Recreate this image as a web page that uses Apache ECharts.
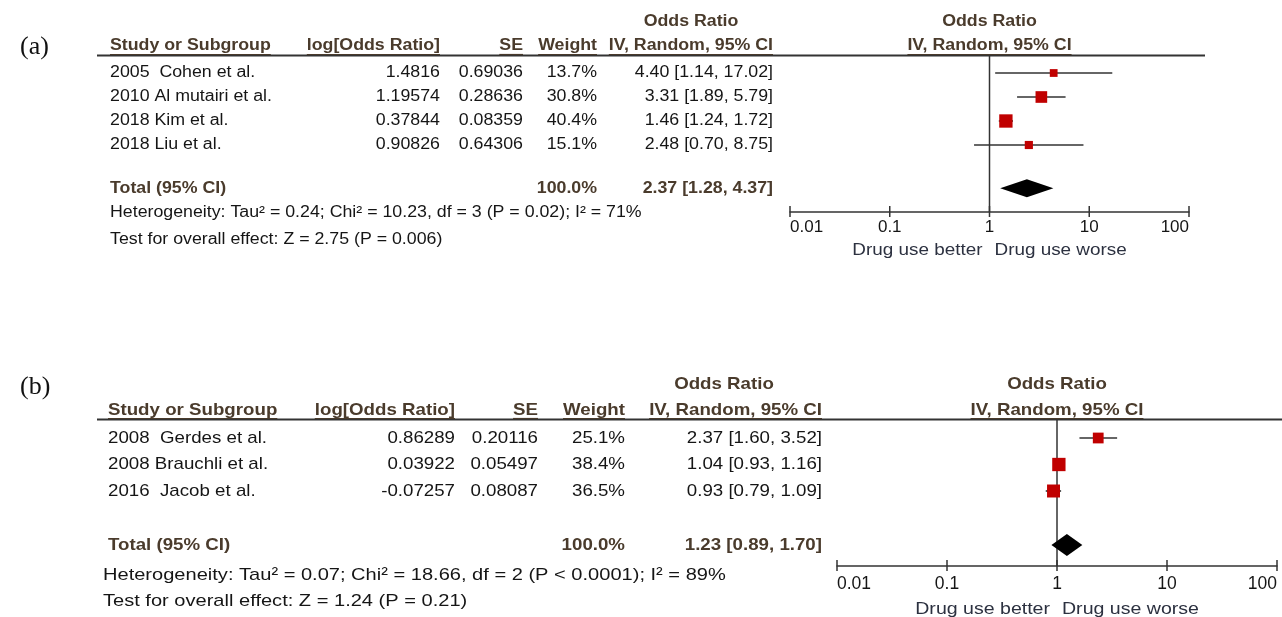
<!DOCTYPE html>
<html><head><meta charset="utf-8">
<script src="https://cdn.jsdelivr.net/npm/echarts@6/dist/echarts.min.js"></script>
<style>html,body{margin:0;padding:0;background:#fff}#c{width:1282px;height:617px}</style>
</head><body><div id="c"></div><script>
// ---------------- data ----------------
const studiesA = ['2005  Cohen et al.', '2010 Al mutairi et al.', '2018 Kim et al.', '2018 Liu et al.'];
const logOrA = [1.4816, 1.19574, 0.37844, 0.90826];
const seA = [0.69036, 0.28636, 0.08359, 0.64306];
const weightA = [13.7, 30.8, 40.4, 15.1];
const orA = [4.40, 3.31, 1.46, 2.48];
const loA = [1.14, 1.89, 1.24, 0.70];
const hiA = [17.02, 5.79, 1.72, 8.75];
const totalA = [2.37, 1.28, 4.37];
const hetA = 'Heterogeneity: Tau² = 0.24; Chi² = 10.23, df = 3 (P = 0.02); I² = 71%';
const testA = 'Test for overall effect: Z = 2.75 (P = 0.006)';

const studiesB = ['2008  Gerdes et al.', '2008 Brauchli et al.', '2016  Jacob et al.'];
const logOrB = [0.86289, 0.03922, -0.07257];
const seB = [0.20116, 0.05497, 0.08087];
const weightB = [25.1, 38.4, 36.5];
const orB = [2.37, 1.04, 0.93];
const loB = [1.60, 0.93, 0.79];
const hiB = [3.52, 1.16, 1.09];
const totalB = [1.23, 0.89, 1.70];
const hetB = 'Heterogeneity: Tau² = 0.07; Chi² = 18.66, df = 2 (P < 0.0001); I² = 89%';
const testB = 'Test for overall effect: Z = 1.24 (P = 0.21)';

const xTicks = [0.01, 0.1, 1, 10, 100];
const xTickLabels = ['0.01', '0.1', '1', '10', '100'];
const colHeads = ['Study or Subgroup', 'log[Odds Ratio]', 'SE', 'Weight', 'IV, Random, 95% CI'];
const effectHead = 'Odds Ratio';
const totalLabel = 'Total (95% CI)';
const favourLabels = ['Drug use better', 'Drug use worse'];
const panelTags = ['(a)', '(b)'];

// ---------------- layout ----------------
const SANS = '"Liberation Sans", Arial, sans-serif';
const SERIF = '"Liberation Serif", "Times New Roman", serif';
const HEAD = '#4a3b2c', BODY = '#151515', LINE = '#333333', SQ = '#c00000';

const LA = {tagY: 47, row0: 73, rowH: 24, top: 55, axisY: 212, totalRow: 4.8, hetRow: 5.83, testRow: 6.96,
  titleRow: -2.125, headRow: -1.125, drugY: 251,
  cols: {name: 110, logOr: 440, se: 523, weight: 597, ci: 773, ciHead: 691, foot: 110},
  plotL: 790, plotR: 1189, lineL: 97, lineR: 1205, font: 16, sx: 1.11, footSx: 1.11, drugSx: 1.18,
  axisFont: 17, labelMargin: 7, diamondH: 9, sqK: 2.1};
const LB = {tagY: 387, row0: 438, rowH: 26.5, top: 419, axisY: 566, totalRow: 4.04, hetRow: 5.17, testRow: 6.15,
  titleRow: -2.04, headRow: -1.06, drugY: 609,
  cols: {name: 108, logOr: 455, se: 538, weight: 625, ci: 822, ciHead: 724, foot: 103},
  plotL: 837, plotR: 1277, lineL: 97, lineR: 1282, font: 17, sx: 1.1, footSx: 1.18, drugSx: 1.15,
  axisFont: 17.5, labelMargin: 9, diamondH: 11, sqK: 2.15};

const mctx = document.createElement('canvas').getContext('2d');
function measure(c) {
  mctx.font = (c.bold ? 'bold ' : '') + c.size + 'px ' + c.family;
  return mctx.measureText(c.text).width;
}
const fmt2 = v => v.toFixed(2);
const ciText = (o, l, h) => fmt2(o) + ' [' + fmt2(l) + ', ' + fmt2(h) + ']';

const grids = [], xAxes = [], yAxes = [], series = [];

function textSeries(axisIdx, cells) {
  return {
    type: 'custom', xAxisIndex: axisIdx, yAxisIndex: axisIdx, clip: false, silent: true, z: 5,
    data: cells.map(c => [c.x, c.row]),
    renderItem: (params, api) => {
      const c = cells[params.dataIndex];
      const p = api.coord([c.x, c.row]);
      const px = p[0] + (c.dx || 0), py = p[1];
      const children = [{
        type: 'text', x: px, y: py, scaleX: c.sx,
        style: {text: c.text, fill: c.color, fontSize: c.size, fontFamily: c.family,
          fontWeight: c.bold ? 'bold' : 'normal', align: c.align, verticalAlign: 'middle'}
      }];
      if (c.underline) {
        const w = measure(c) * c.sx;
        const x0 = c.align === 'left' ? px : c.align === 'right' ? px - w : px - w / 2;
        const uy = Math.round(py + c.size * 0.5) + 0.5;
        children.push({type: 'line', shape: {x1: x0, y1: uy, x2: x0 + w, y2: uy}, style: {stroke: c.color, lineWidth: 1.2}});
      }
      return {type: 'group', children};
    }
  };
}

function addPanel(L, d, tag) {
  const gi = grids.length;
  const pi = gi + 1;
  const yMin = (L.top - L.row0) / L.rowH, yMax = (L.axisY - L.row0) / L.rowH;
  const gh = L.axisY - L.top;
  grids.push({left: 0, right: 0, top: L.top, height: gh, containLabel: false, outerBoundsMode: 'none'});
  grids.push({left: L.plotL, width: L.plotR - L.plotL, top: L.top, height: gh, containLabel: false, outerBoundsMode: 'none'});
  xAxes.push({type: 'value', gridIndex: gi, min: 0, max: 1282, show: false});
  yAxes.push({type: 'value', gridIndex: gi, min: yMin, max: yMax, inverse: true, show: false});
  xAxes.push({
    type: 'log', logBase: 10, gridIndex: pi, min: 0.01, max: 100, splitNumber: 4, position: 'bottom',
    axisLine: {show: true, onZero: false, lineStyle: {color: LINE, width: 1.5}},
    axisTick: {show: false}, splitLine: {show: false},
    axisLabel: {show: true, margin: L.labelMargin, fontSize: L.axisFont, fontFamily: SANS, color: BODY,
      showMinLabel: true, showMaxLabel: true, hideOverlap: false, alignMinLabel: 'left', alignMaxLabel: 'right',
      formatter: v => {
        const k = xTicks.findIndex(t => Math.abs(Math.log10(t) - Math.log10(v)) < 1e-6);
        return k >= 0 ? xTickLabels[k] : '';
      }}
  });
  yAxes.push({type: 'value', gridIndex: pi, min: yMin, max: yMax, inverse: true, show: false});

  const base = {size: L.font, family: SANS, sx: L.sx};
  const C = L.cols;
  const cells = [];
  const add = o => cells.push(Object.assign({}, base, o));
  add({x: 20, row: (L.tagY - L.row0) / L.rowH, text: tag, align: 'left', color: '#111', family: SERIF, size: 26, sx: 1});
  add({x: C.ciHead, row: L.titleRow, text: effectHead, align: 'center', bold: true, color: HEAD});
  const headX = [C.name, C.logOr, C.se, C.weight, C.ci];
  colHeads.forEach((h, k) => add({x: headX[k], row: L.headRow, text: h, align: k === 0 ? 'left' : 'right', bold: true, color: HEAD, underline: true}));
  d.studies.forEach((s, i) => {
    add({x: C.name, row: i, text: s, align: 'left', color: BODY});
    add({x: C.logOr, row: i, text: String(d.logOr[i]), align: 'right', color: BODY});
    add({x: C.se, row: i, text: String(d.se[i]), align: 'right', color: BODY});
    add({x: C.weight, row: i, text: d.weight[i].toFixed(1) + '%', align: 'right', color: BODY});
    add({x: C.ci, row: i, text: ciText(d.or[i], d.lo[i], d.hi[i]), align: 'right', color: BODY});
  });
  const wsum = d.weight.reduce((a, b) => a + b, 0);
  add({x: C.name, row: L.totalRow, text: totalLabel, align: 'left', bold: true, color: HEAD});
  add({x: C.weight, row: L.totalRow, text: wsum.toFixed(1) + '%', align: 'right', bold: true, color: HEAD});
  add({x: C.ci, row: L.totalRow, text: ciText(d.total[0], d.total[1], d.total[2]), align: 'right', bold: true, color: HEAD});
  add({x: C.foot, row: L.hetRow, text: d.het, align: 'left', color: BODY, sx: L.footSx});
  add({x: C.foot, row: L.testRow, text: d.test, align: 'left', color: BODY, sx: L.footSx});
  series.push(textSeries(gi, cells));

  // header rule
  series.push({
    type: 'custom', xAxisIndex: gi, yAxisIndex: gi, clip: false, silent: true,
    data: [[L.lineL, yMin, L.lineR]],
    renderItem: (params, api) => {
      const a = api.coord([api.value(0), api.value(1)]), b = api.coord([api.value(2), api.value(1)]);
      return {type: 'line', shape: {x1: a[0], y1: a[1] + 0.5, x2: b[0], y2: b[1] + 0.5}, style: {stroke: LINE, lineWidth: 1.8}};
    }
  });

  // plot-area texts
  const pcells = [];
  const padd = o => pcells.push(Object.assign({}, base, o));
  padd({x: 1, row: L.titleRow, text: effectHead, align: 'center', bold: true, color: HEAD});
  padd({x: 1, row: L.headRow, text: colHeads[4], align: 'center', bold: true, color: HEAD, underline: true});
  const drow = (L.drugY - L.row0) / L.rowH;
  padd({x: 1, row: drow, dx: -7, text: favourLabels[0], align: 'right', color: '#2c3140', sx: L.drugSx});
  padd({x: 1, row: drow, dx: 5, text: favourLabels[1], align: 'left', color: '#2c3140', sx: L.drugSx});
  series.push(textSeries(pi, pcells));

  // line of no effect
  series.push({
    type: 'custom', xAxisIndex: pi, yAxisIndex: pi, clip: false, silent: true,
    data: [[1, yMin, yMax]],
    renderItem: (params, api) => {
      const a = api.coord([api.value(0), api.value(1)]), b = api.coord([api.value(0), api.value(2)]);
      return {type: 'line', shape: {x1: a[0], y1: a[1], x2: b[0], y2: b[1]}, style: {stroke: LINE, lineWidth: 1.5}};
    }
  });
  // axis ticks (crossing the axis line)
  series.push({
    type: 'custom', xAxisIndex: pi, yAxisIndex: pi, clip: false, silent: true,
    data: xTicks.map(t => [t, yMax]),
    renderItem: (params, api) => {
      const p = api.coord([api.value(0), api.value(1)]);
      return {type: 'line', shape: {x1: p[0], y1: p[1] - 6, x2: p[0], y2: p[1] + 5}, style: {stroke: LINE, lineWidth: 1.5}};
    }
  });
  // CIs and squares
  series.push({
    type: 'custom', xAxisIndex: pi, yAxisIndex: pi, clip: false, silent: true, z: 3,
    data: d.or.map((o, i) => [o, i, d.lo[i], d.hi[i], d.weight[i]]),
    renderItem: (params, api) => {
      const p = api.coord([api.value(0), api.value(1)]);
      const l = api.coord([api.value(2), api.value(1)]);
      const h = api.coord([api.value(3), api.value(1)]);
      const s = L.sqK * Math.sqrt(api.value(4));
      return {type: 'group', children: [
        {type: 'line', shape: {x1: l[0], y1: l[1], x2: h[0], y2: h[1]}, style: {stroke: LINE, lineWidth: 1.6}},
        {type: 'rect', shape: {x: p[0] - s / 2, y: p[1] - s / 2, width: s, height: s}, style: {fill: SQ}}
      ]};
    }
  });
  // pooled diamond
  series.push({
    type: 'custom', xAxisIndex: pi, yAxisIndex: pi, clip: false, silent: true, z: 3,
    data: [[d.total[0], L.totalRow, d.total[1], d.total[2]]],
    renderItem: (params, api) => {
      const e = api.coord([api.value(0), api.value(1)]);
      const l = api.coord([api.value(2), api.value(1)]);
      const h = api.coord([api.value(3), api.value(1)]);
      const H = L.diamondH;
      return {type: 'polygon', shape: {points: [[l[0], l[1]], [e[0], e[1] - H], [h[0], h[1]], [e[0], e[1] + H]]}, style: {fill: '#000'}};
    }
  });
}

addPanel(LA, {studies: studiesA, logOr: logOrA, se: seA, weight: weightA, or: orA, lo: loA, hi: hiA, total: totalA, het: hetA, test: testA}, panelTags[0]);
addPanel(LB, {studies: studiesB, logOr: logOrB, se: seB, weight: weightB, or: orB, lo: loB, hi: hiB, total: totalB, het: hetB, test: testB}, panelTags[1]);

const chart = echarts.init(document.getElementById('c'), null, {renderer: 'canvas'});
chart.setOption({
  backgroundColor: '#ffffff',
  animation: false,
  tooltip: {show: false},
  grid: grids, xAxis: xAxes, yAxis: yAxes, series: series
});
</script></body></html>
